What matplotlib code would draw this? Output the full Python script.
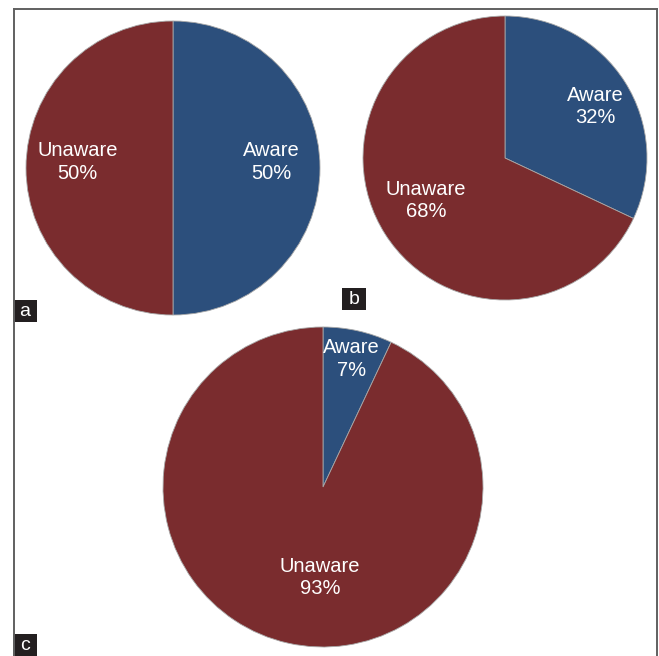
import matplotlib
matplotlib.use("Agg")
import matplotlib.pyplot as plt
from matplotlib.patches import Rectangle
from matplotlib.lines import Line2D
import numpy as np

plt.rcParams['font.family'] = ['Liberation Sans', 'DejaVu Sans']

categories = ["Aware", "Unaware"]
values_a = [50, 50]
values_b = [32, 68]
values_c = [7, 93]
panel_labels = ["a", "b", "c"]
colors = ["#2C4F7C", "#7A2C2E"]

W, H = 659, 656
fig = plt.figure(figsize=(W / 100, H / 100), dpi=100)

def px_axes(cx, cy, r):
    return fig.add_axes([(cx - r) / W, (H - cy - r) / H, 2 * r / W, 2 * r / H])

def draw_pie(ax, vals, dists):
    wedges, _ = ax.pie(vals, colors=colors, startangle=90, counterclock=False,
                       wedgeprops=dict(edgecolor="#a8a8a8", linewidth=0.6))
    total = sum(vals)
    for w, cat, v, d in zip(wedges, categories, vals, dists):
        ang = np.deg2rad((w.theta1 + w.theta2) / 2)
        ax.text(d[0] * np.cos(ang) + d[1], d[0] * np.sin(ang) + d[2],
                f"{cat}\n{round(100 * v / total)}%", ha="center", va="center",
                color="white", fontsize=14.5, linespacing=1.22)
    ax.set_xlim(-1, 1)
    ax.set_ylim(-1, 1)
    ax.set_aspect("equal")
    ax.axis("off")

ax_a = px_axes(173, 168, 147)
draw_pie(ax_a, values_a, [(0.67, 0, 0.04), (0.65, 0, 0.04)])
ax_b = px_axes(505, 158, 142)
draw_pie(ax_b, values_b, [(0.75, 0.0, -0.04), (0.6, -0.05, 0.02)])
ax_c = px_axes(323, 487, 160)
draw_pie(ax_c, values_c, [(0.82, 0, 0), (0.55, 0.1, -0.03)])

# border
bc = "#606060"
for (x0, y0, x1, y1) in [(13.5, 656, 13.5, 8.5), (13.5, 8.5, 657, 8.5), (657, 8.5, 657, 656)]:
    fig.add_artist(Line2D([x0 / W, x1 / W], [1 - y0 / H, 1 - y1 / H], color=bc, lw=1.4,
                          transform=fig.transFigure))

# panel label boxes
for lab, (x0, y0, x1, y1) in zip(panel_labels, [(13, 300, 37, 322), (342, 288, 366, 310), (13, 634, 37, 656)]):
    fig.add_artist(Rectangle((x0 / W, 1 - y1 / H), (x1 - x0) / W, (y1 - y0) / H,
                             facecolor="#231F20", edgecolor="none", transform=fig.transFigure))
    fig.text((x0 + x1) / 2 / W, 1 - (y0 + y1) / 2 / H, lab, color="white", fontsize=14,
             ha="center", va="center")

fig.savefig("out.png", dpi=100, facecolor="white")
